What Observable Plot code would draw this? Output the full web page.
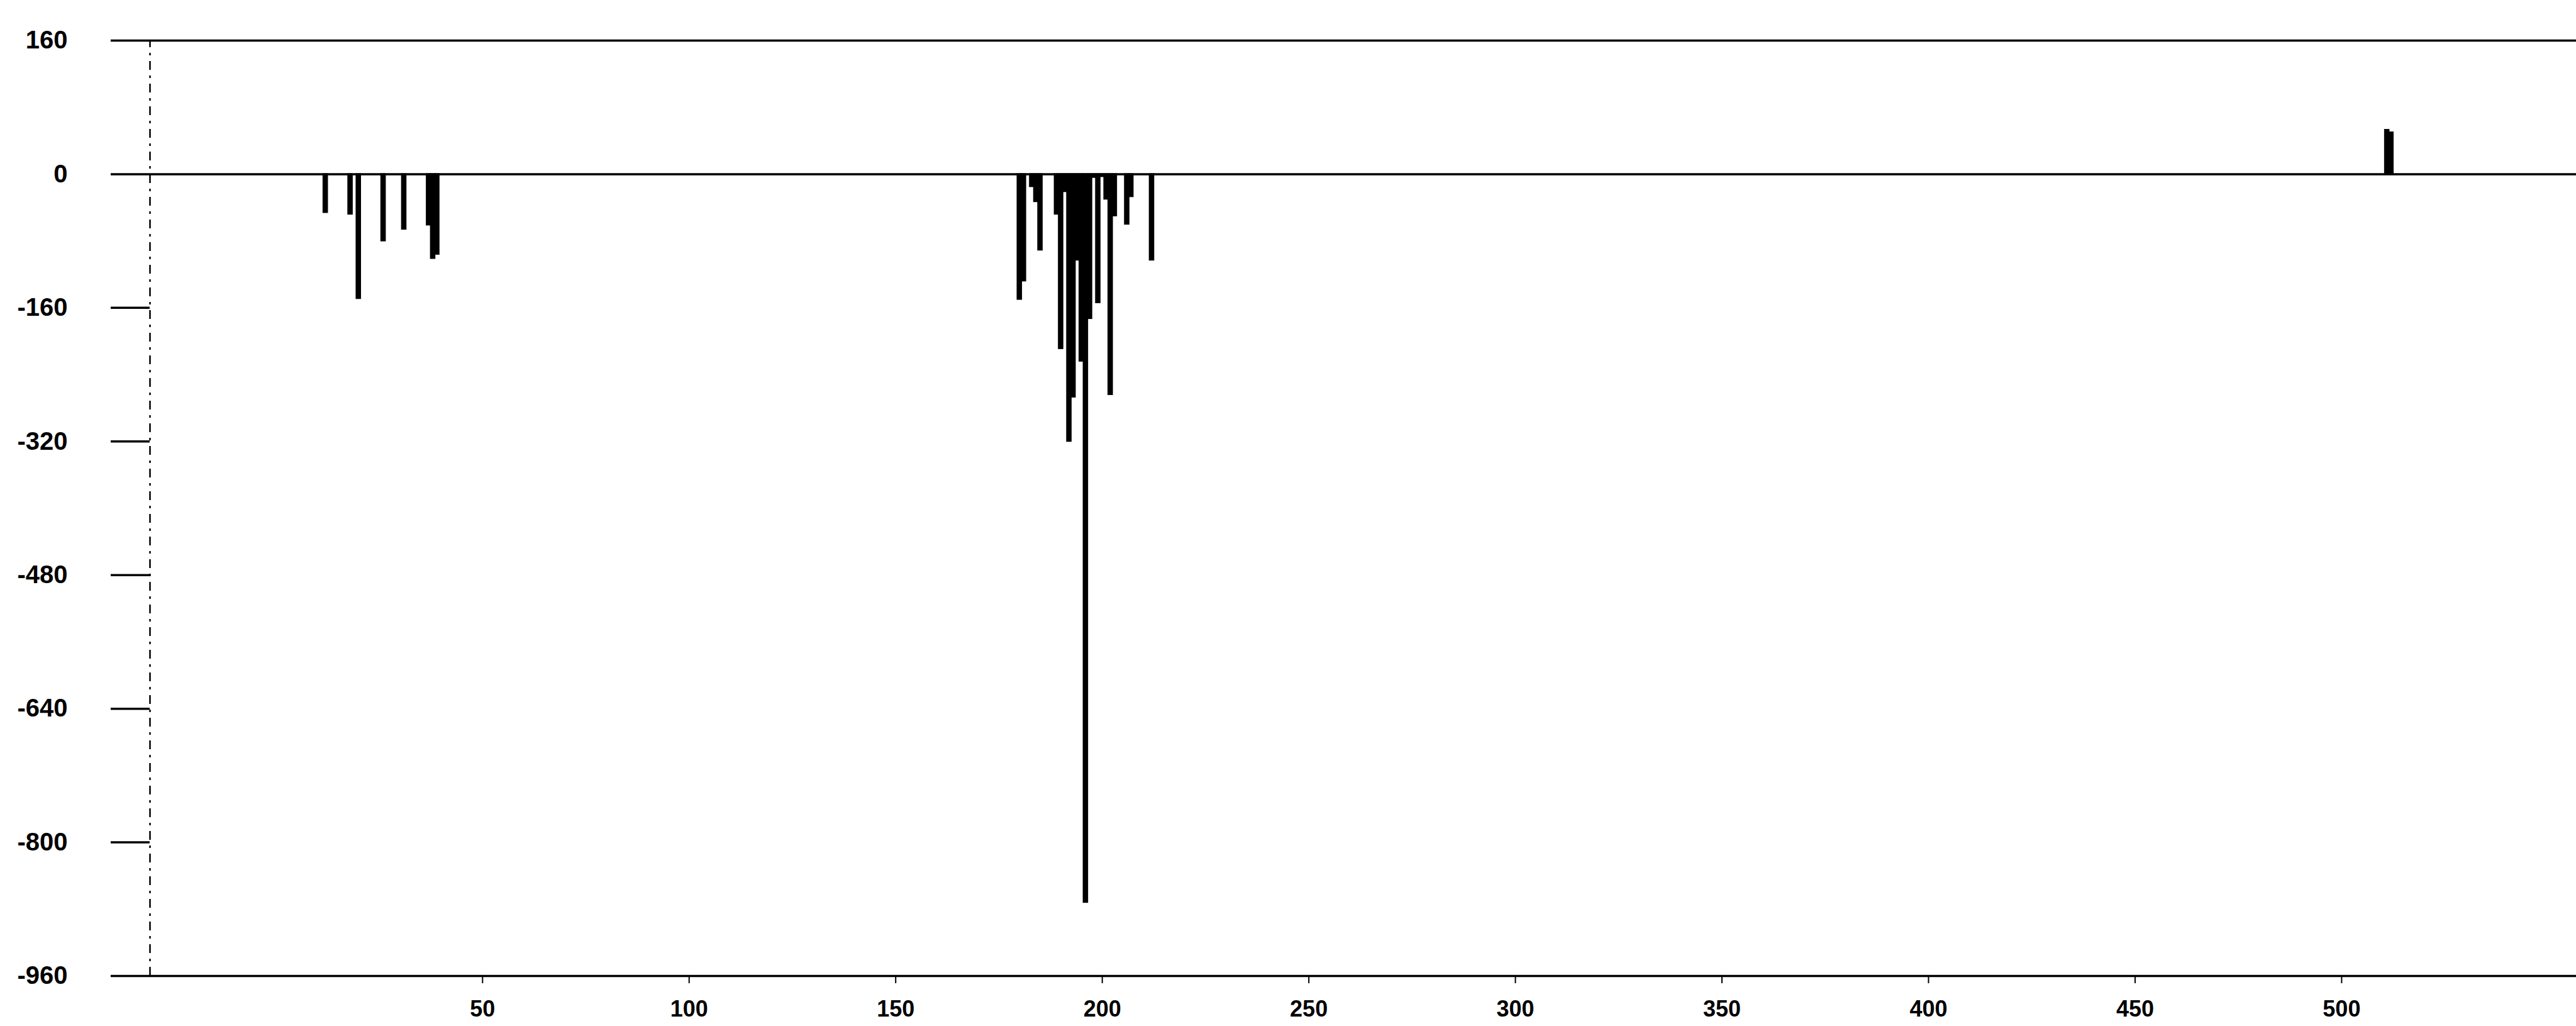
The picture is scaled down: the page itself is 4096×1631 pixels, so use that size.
<!DOCTYPE html>
<html>
<head>
<meta charset="utf-8">
<script src="https://cdn.jsdelivr.net/npm/d3@7"></script>
<script src="https://cdn.jsdelivr.net/npm/@observablehq/plot@0.6"></script>
<style>
  html, body { margin: 0; padding: 0; background: #fff; overflow: hidden; }
  #chart svg { display: block; }
</style>
</head>
<body>
<div id="chart"></div>
<script>
// Residue positions and their values
const positions = [12, 18, 20, 26, 31, 37, 38, 39,
  180, 181, 183, 184, 185, 189, 190, 191, 192, 193, 194, 195, 196, 197, 198, 199, 200, 201, 202, 203, 206, 207, 212,
  511, 512];
const values = [-46, -48, -149, -80, -66, -61, -101, -96,
  -150, -128, -15, -33, -91, -48, -209, -21, -320, -267, -103, -224, -872, -173, -4, -154, -3, -30, -264, -50, -60, -27, -103,
  53, 50];
const xTickValues = [50, 100, 150, 200, 250, 300, 350, 400, 450, 500];
const yTickValues = [160, 0, -160, -320, -480, -640, -800, -960];
const frameLines = [160, 0, -960];
const xDomain = [-30.5, 556.8];
const yDomain = [-960, 160];

const data = positions.map((p, i) => ({pos: p, value: values[i]}));

const chart = Plot.plot({
  width: 4096,
  height: 1631,
  marginLeft: 238,
  marginRight: 0,
  marginTop: 64,
  marginBottom: 80,
  style: {fontFamily: "'Liberation Sans', Arial, sans-serif", fontWeight: "bold", color: "#000", background: "#fff"},
  x: {domain: xDomain},
  y: {domain: yDomain},
  marks: [
    Plot.ruleY(frameLines, {stroke: "#000", strokeWidth: 3.5}),
    Plot.ruleX([xDomain[0]], {y1: yDomain[0], y2: yDomain[1], stroke: "#000", strokeWidth: 2.5, strokeDasharray: "14,9,4,9"}),
    Plot.rect(data, {
      x1: d => d.pos - 0.5,
      x2: d => d.pos + 0.5,
      y1: () => 0,
      y2: d => d.value,
      fill: "#000",
      stroke: "#000",
      strokeWidth: 2
    }),
    Plot.axisY({ticks: yTickValues, tickSize: 62, tickPadding: 69, tickFormat: d => String(d), fontSize: 40, strokeWidth: 3.5, label: null}),
    Plot.axisX({ticks: xTickValues, tickSize: 12, tickPadding: 27, tickFormat: d => String(d), fontSize: 36, strokeWidth: 2, label: null})
  ]
});
document.getElementById("chart").appendChild(chart);
</script>
</body>
</html>
